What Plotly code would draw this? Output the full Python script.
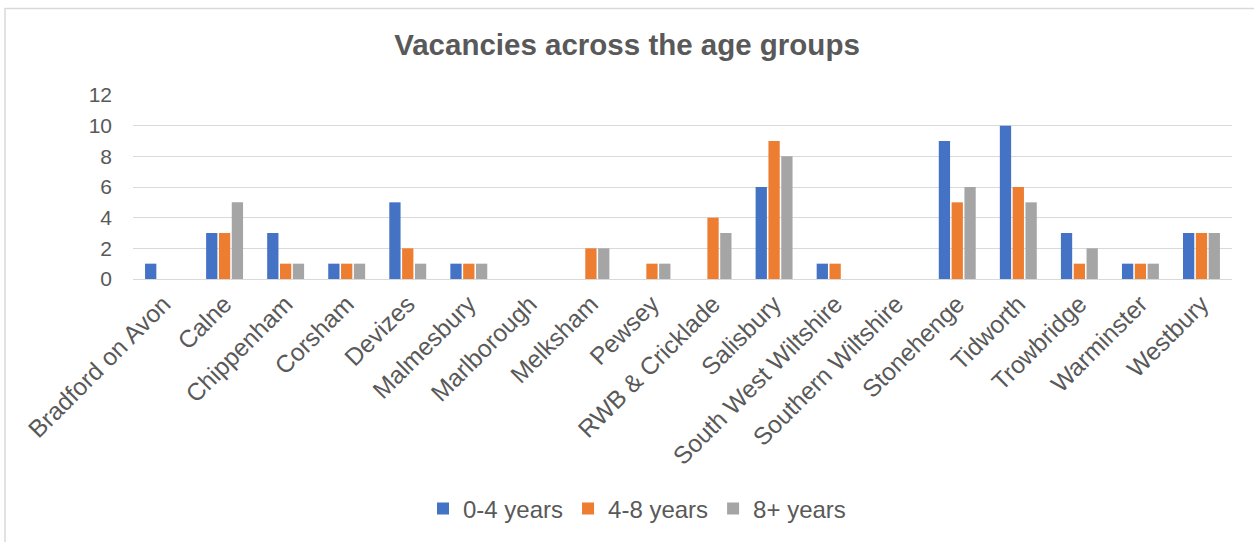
import plotly.graph_objects as go

categories = ["Bradford on Avon", "Calne", "Chippenham", "Corsham", "Devizes",
              "Malmesbury", "Marlborough", "Melksham", "Pewsey", "RWB & Cricklade",
              "Salisbury", "South West Wiltshire", "Southern Wiltshire", "Stonehenge",
              "Tidworth", "Trowbridge", "Warminster", "Westbury"]
age_0_4 = [1, 3, 3, 1, 5, 1, 0, 0, 0, 0, 6, 1, 0, 9, 10, 3, 1, 3]
age_4_8 = [0, 3, 1, 1, 2, 1, 0, 2, 1, 4, 9, 1, 0, 5, 6, 1, 1, 3]
age_8_plus = [0, 5, 1, 1, 1, 1, 0, 2, 1, 3, 8, 0, 0, 6, 5, 2, 1, 3]
series_names = ["0-4 years", "4-8 years", "8+ years"]
colors = ["#4472C4", "#ED7D31", "#A5A5A5"]

W, H = 1254, 542
L, R, T, B = 133, 22, 95, 262
pw, ph = W - L - R, H - T - B

fig = go.Figure()
for name, vals, c in zip(series_names, [age_0_4, age_4_8, age_8_plus], colors):
    fig.add_trace(go.Bar(x=categories, y=vals, name=name, marker_color=c,
                         marker_line_width=0))

def px_x(p):
    return (p - L) / pw

def px_y(p):
    return (H - B - p) / ph

fig.update_layout(
    width=W, height=H,
    margin=dict(l=L, r=R, t=T, b=B),
    paper_bgcolor="white", plot_bgcolor="white",
    font=dict(family="Liberation Sans, Arial, sans-serif", color="#595959", size=21),
    title=dict(text="<b>Vacancies across the age groups</b>", x=0.5, xanchor="center",
               y=1 - 45 / H, yanchor="middle",
               font=dict(size=29.5, color="#595959")),
    barmode="group", bargap=0.37, bargroupgap=0.12,
    showlegend=True,
    legend=dict(orientation="h", x=px_x(637), xanchor="center", y=px_y(509), yanchor="middle",
                font=dict(size=24, color="#595959"), itemwidth=30,
                tracegroupgap=0, bgcolor="rgba(0,0,0,0)"),
    xaxis=dict(tickangle=-45, showgrid=False, showline=True, linecolor="#D9D9D9",
               linewidth=1, ticks="", tickfont=dict(size=24.5, color="#595959")),
    yaxis=dict(range=[0, 12], dtick=2, showgrid=True, gridcolor="#D9D9D9", gridwidth=1,
               zeroline=False, showline=False, ticks="", ticklen=0,
               ticklabelstandoff=20,
               tickfont=dict(size=21, color="#595959")),
    shapes=[dict(type="rect", xref="paper", yref="paper",
                 x0=px_x(5), x1=px_x(1270), y0=px_y(560), y1=px_y(8),
                 line=dict(color="#D9D9D9", width=1.5), fillcolor="rgba(0,0,0,0)",
                 layer="below")],
)

fig.write_html("out.html", config={"displayModeBar": False},
               post_script="document.body.style.margin='0';document.body.style.overflow='hidden';")
